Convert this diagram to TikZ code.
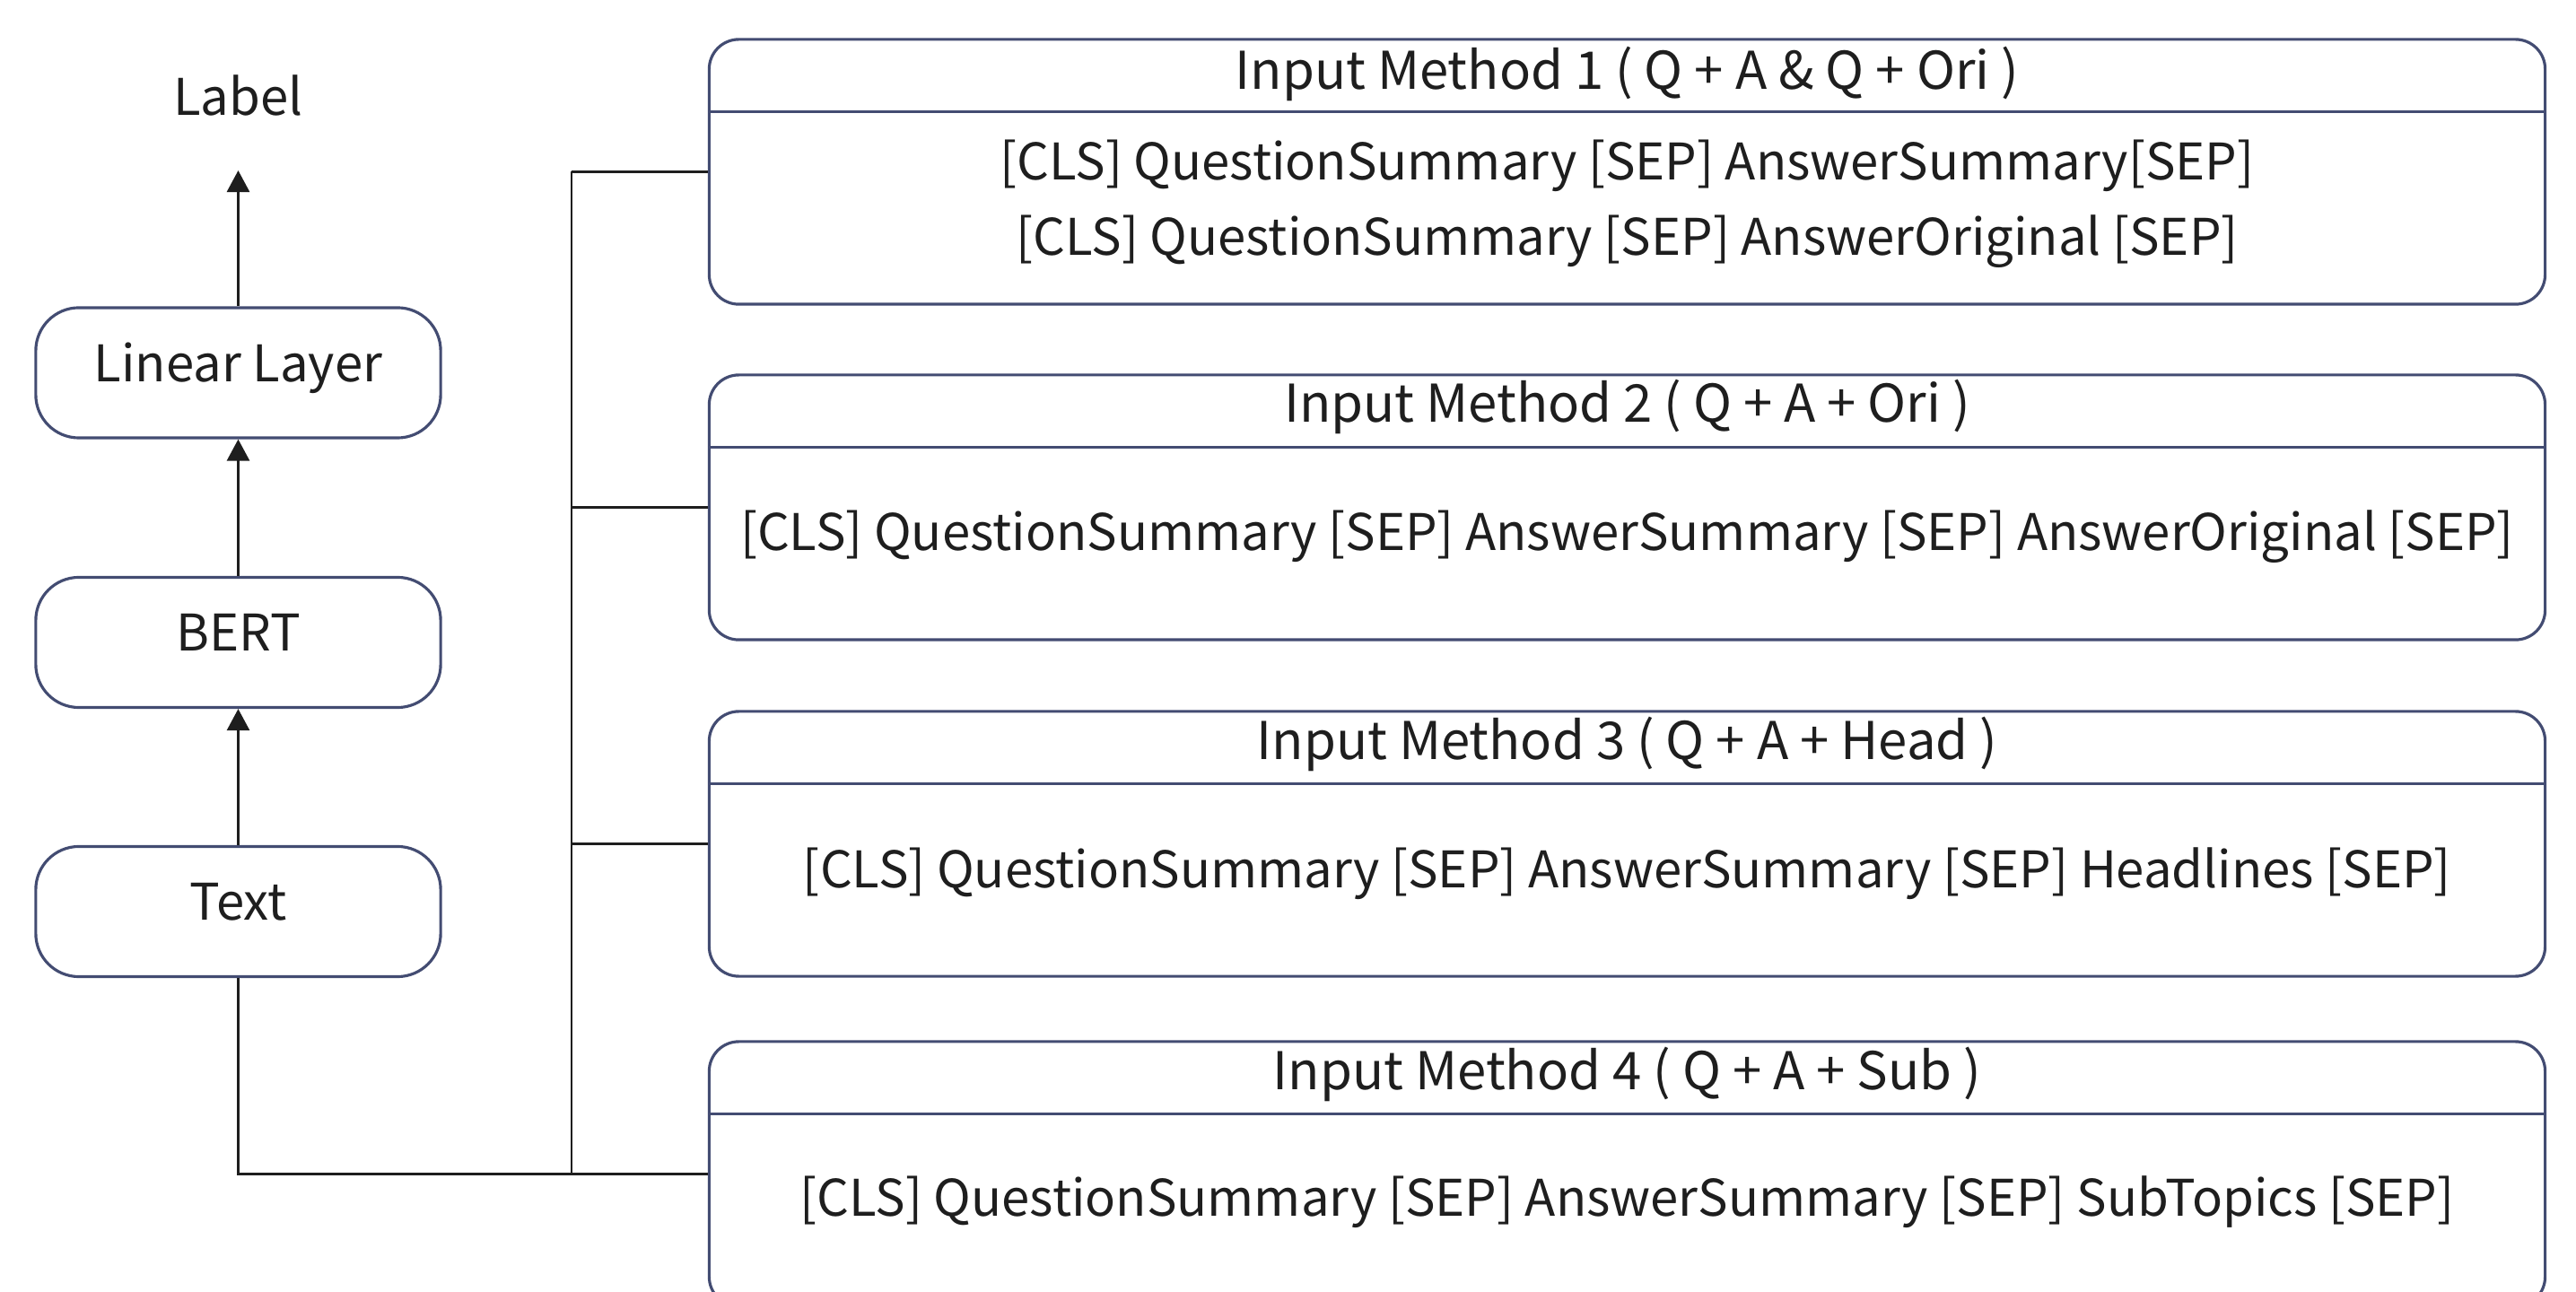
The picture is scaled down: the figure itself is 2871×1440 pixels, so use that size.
\documentclass[tikz,border=0pt]{standalone}
\usepackage{fontspec}
\setmainfont{Noto Sans CJK JP}
\usepackage{tikz}
\usetikzlibrary{arrows.meta,positioning}
\definecolor{bnavy}{HTML}{434C72}
\definecolor{ink}{HTML}{1E1E1E}
\tikzset{
  >={Triangle[length=2.4mm,width=2.5mm]},
  btxt/.style={text=ink, font=\fontsize{16}{24}\selectfont, inner sep=0pt,
               text height=0.75em, text depth=0.2em},
  ttxt/.style={btxt, font=\fontsize{16.5}{24}\selectfont},
  lbox/.style={btxt, rounded corners=0.48cm, draw=bnavy, line width=0.9pt,
               minimum width=4.51cm, minimum height=1.45cm},
  mbox/.style={rounded corners=0.33cm, draw=bnavy, line width=0.9pt,
               minimum width=20.45cm, minimum height=2.95cm},
  mhead/.style={draw=bnavy, line width=0.9pt},
  flow/.style={->, ink, line width=0.8pt},
  wire/.style={ink, line width=0.8pt},
}
\begin{document}
\begin{tikzpicture}[x=0.01cm,y=-0.01cm]
  \useasboundingbox (0,0) rectangle (2871,1440);

  % left column
  \node[btxt] (lab) at (265.5,119) {Label};
  \node[lbox] (lin) at (265.5,415.5) {Linear Layer};
  \node[lbox] (bert) at (265.5,716) {BERT};
  \node[lbox] (txt) at (265.5,1016) {Text};
  \coordinate (labtip) at (265.5,190);

  \draw[flow] (lin) -- (labtip);
  \draw[flow] (bert) -- (lin);
  \draw[flow] (txt) -- (bert);

  % input methods
  \node[mbox] (m1) at (1813.5,191.5) {};
  \node[mbox] (m2) at (1813.5,565.5) {};
  \node[mbox] (m3) at (1813.5,940.5) {};
  \node[mbox] (m4) at (1813.5,1308.5) {};
  \foreach \m in {m1,m2,m3,m4}
    \draw[mhead] ([yshift=-0.82cm]\m.north west) -- ([yshift=-0.82cm]\m.north east);

  \node[ttxt] (t1) at (1813.5,90) {Input Method 1 ( Q + A \& Q + Ori )};
  \node[btxt, align=center, text height=, text depth=] (b1) at (1813.5,227)
    {[CLS] QuestionSummary [SEP] AnswerSummary[SEP]\\{}%
     [CLS] QuestionSummary [SEP] AnswerOriginal [SEP]};
  \node[ttxt] (t2) at (1813.5,461) {Input Method 2 ( Q + A + Ori )};
  \node[btxt] (b2) at (1813.5,604)
    {[CLS] QuestionSummary [SEP] AnswerSummary [SEP] AnswerOriginal [SEP]};
  \node[ttxt] (t3) at (1813.5,837) {Input Method 3 ( Q + A + Head )};
  \node[btxt] (b3) at (1813.5,980)
    {[CLS] QuestionSummary [SEP] AnswerSummary [SEP] Headlines [SEP]};
  \node[ttxt] (t4) at (1813.5,1205) {Input Method 4 ( Q + A + Sub )};
  \node[btxt] (b4) at (1813.5,1346)
    {[CLS] QuestionSummary [SEP] AnswerSummary [SEP] SubTopics [SEP]};

  % wiring
  \coordinate (bus) at (637,0);
  \draw[wire] (txt.south) |- (m4.west);
  \draw[wire] (m1.west -| bus) -- (m4.west -| bus);
  \foreach \m in {m1,m2,m3}
    \draw[wire] (\m.west) -- (\m.west -| bus);

\end{tikzpicture}
\end{document}
